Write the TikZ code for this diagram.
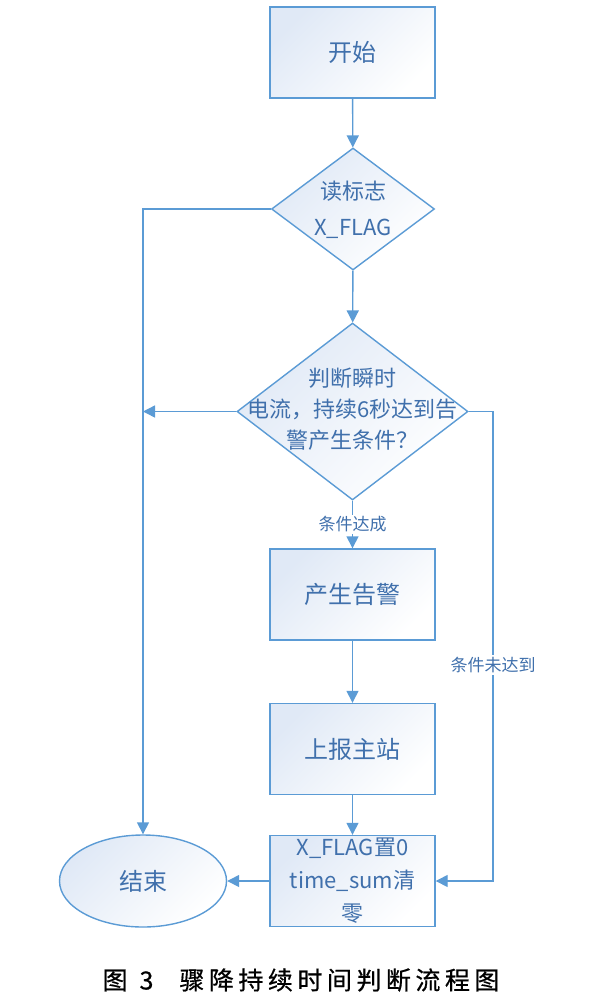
\documentclass[tikz,border=0pt]{standalone}
\usepackage{fontspec}
\setmainfont{Noto Sans CJK SC}
\newfontfamily\capfont[FakeBold=0.6]{Noto Sans CJK SC}
\usetikzlibrary{shapes.geometric,arrows.meta}
\definecolor{linec}{RGB}{91,155,213}
\definecolor{textc}{RGB}{64,112,172}
\definecolor{fillc}{RGB}{224,233,246}
\tikzset{
  shapebase/.style={draw=linec, line width=1.4pt, top color=fillc, bottom color=white, shading angle=45, text=textc, inner sep=0pt},
  procbox/.style={shapebase, rectangle, minimum width=165pt, minimum height=91pt, font=\fontsize{24}{30}\selectfont},
  decision/.style={shapebase, diamond, aspect=1},
  dtext/.style={text=textc, align=center, font=\fontsize{22}{33}\selectfont},
  endshape/.style={shapebase, ellipse, minimum width=167pt, minimum height=92pt, font=\fontsize{24}{30}\selectfont},
  arr/.style={draw=linec, line width=1.4pt, -{Triangle[length=12pt,width=12pt]}},
  lab/.style={fill=white, text=textc, font=\fontsize{17}{20}\selectfont, inner sep=2pt},
  captext/.style={text=black, font=\capfont\fontsize{25}{30}\selectfont}
}
\begin{document}
\begin{tikzpicture}[x=1pt,y=-1pt]
\useasboundingbox (0,0) rectangle (607,999);
\node[procbox] (start) at (352.5,52.5) {开始};
\node[decision, minimum width=163pt, minimum height=122pt] (d1) at (353,209) {};
\node[dtext, font=\fontsize{22}{36}\selectfont] (d1t) at (353,210) {读标志\\X\_FLAG};
\node[decision, minimum width=231pt, minimum height=177pt] (d2) at (352.5,411.5) {};
\node[dtext, font=\fontsize{22}{31}\selectfont] (d2t) at (352.5,409) {判断瞬时\\电流，持续6秒达到告\\警产生条件？};
\node[procbox] (alarm) at (352.5,594.5) {产生告警};
\node[procbox] (report) at (352.5,749) {上报主站};
\node[procbox, font=\fontsize{22}{33}\selectfont, align=center] (clear) at (352.5,881) {X\_FLAG置0\\time\_sum清\\零};
\node[endshape] (end) at (143,881) {结束};
\coordinate (rx) at (493,411.5);
\draw[arr] (start) -- (d1);
\draw[arr] (d1) -- (d2);
\draw[arr] (d1.west) -| (end.north);
\draw[arr] (d2.west) -- (d2.west -| end.north);
\draw[arr] (d2.south) -- node[lab] (l1) {条件达成} (alarm.north);
\draw[arr] (alarm) -- (report);
\draw[arr] (report) -- (clear);
\draw[arr] (d2.east) -- (rx) |- node[lab, pos=0.27] (l2) {条件未达到} (clear.east);
\draw[arr] (clear) -- (end);
\node[captext] (cap) at (301,980) {图\kern12pt\relax 3\kern26pt\relax 骤\kern4.5pt\relax 降\kern4.5pt\relax 持\kern4.5pt\relax 续\kern4.5pt\relax 时\kern4.5pt\relax 间\kern4.5pt\relax 判\kern4.5pt\relax 断\kern4.5pt\relax 流\kern4.5pt\relax 程\kern4.5pt\relax 图};
\end{tikzpicture}
\end{document}
